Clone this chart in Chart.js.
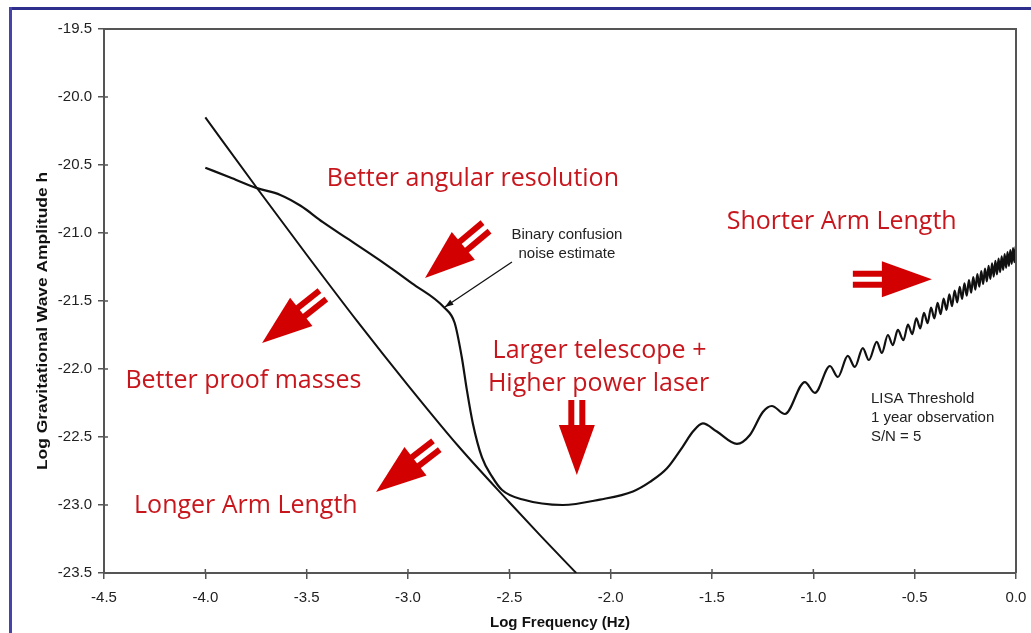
<!DOCTYPE html>
<html>
<head>
<meta charset="utf-8">
<title>LISA sensitivity</title>
<script src="https://cdn.jsdelivr.net/npm/chart.js@4.4.1/dist/chart.umd.min.js"></script>
<style>
  html, body { margin: 0; padding: 0; background: #fff; }
  #wrap { position: relative; width: 1031px; height: 633px; overflow: hidden; }
  #edgeTop { position: absolute; left: 9px; top: 7px; right: 0; height: 3px; background: #2e2f8c; }
  #edgeLeft { position: absolute; left: 9px; top: 7px; bottom: 0; width: 3px; background: #4444aa; }
</style>
</head>
<body>
<div id="wrap">
  <canvas id="chart" width="1031" height="633"></canvas>
  <div id="edgeTop"></div>
  <div id="edgeLeft"></div>
</div>
<script>
// axis ranges (log10 units)
const freqMin = -4.5, freqMax = 0.0, freqStep = 0.5;
const ampMin = -23.5, ampMax = -19.5, ampStep = 0.5;

// LISA threshold curve, 1 year observation, S/N = 5
const thresholdX = [
  -4.0, -3.88, -3.745, -3.63, -3.53, -3.42, -3.30, -3.14, -2.98, -2.82,
  -2.77, -2.735, -2.71, -2.68, -2.635, -2.586, -2.536, -2.433, -2.236, -2.053,
  -1.89, -1.806, -1.722, -1.644, -1.594, -1.545, -1.476, -1.377, -1.313, -1.249,
  -1.205, -1.140, -1.042, -0.992, -0.918, -0.879, -0.830, -0.795, -0.756, -0.726,
  -0.687, -0.662, -0.632, -0.608, -0.583,
  -0.5554, -0.5331, -0.5119, -0.4918, -0.4725, -0.4540, -0.4362, -0.4192, -0.4028, -0.3870,
  -0.3718, -0.3570, -0.3428, -0.3290, -0.3157, -0.3027, -0.2901, -0.2778, -0.2660, -0.2544,
  -0.2431, -0.2321, -0.2214, -0.2109, -0.2007, -0.1907, -0.1810, -0.1714, -0.1621, -0.1529,
  -0.1440, -0.1352, -0.1266, -0.1181, -0.1099, -0.1017, -0.0938, -0.0860, -0.0783, -0.0707,
  -0.0633, -0.0560, -0.0488, -0.0418, -0.0348, -0.0280, -0.0212, -0.0146, -0.0081, -0.0017,
  0.0
];
const thresholdY = [
  -20.52, -20.59, -20.67, -20.72, -20.80, -20.92, -21.04, -21.20, -21.37, -21.55,
  -21.66, -21.91, -22.15, -22.40, -22.65, -22.79, -22.89, -22.96, -23.00, -22.96,
  -22.90, -22.83, -22.73, -22.57, -22.46, -22.40, -22.46, -22.55, -22.485, -22.316,
  -22.272, -22.331, -22.096, -22.176, -21.978, -22.059, -21.904, -21.985, -21.846, -21.934,
  -21.801, -21.882, -21.750, -21.824, -21.713,
  -21.788, -21.673, -21.743, -21.628, -21.701, -21.587, -21.663, -21.549, -21.628, -21.514,
  -21.596, -21.482, -21.565, -21.452, -21.537, -21.423, -21.510, -21.396, -21.484, -21.371,
  -21.460, -21.347, -21.438, -21.324, -21.416, -21.302, -21.395, -21.281, -21.375, -21.261,
  -21.356, -21.242, -21.338, -21.223, -21.321, -21.205, -21.304, -21.188, -21.287, -21.172,
  -21.271, -21.156, -21.256, -21.140, -21.242, -21.125, -21.227, -21.111, -21.214, -21.097,
  -21.105
];

// binary confusion noise estimate
const confusionX = [-4.0, -3.75, -3.5, -3.25, -3.0, -2.75, -2.5, -2.35, -2.17];
const confusionY = [-20.15, -20.66, -21.16, -21.65, -22.12, -22.57, -22.98, -23.22, -23.5];

const toPoints = (xs, ys) => xs.map((x, i) => ({ x: x, y: ys[i] }));

const axisColor = '#555';
const noteRed = '#c8161d';
const arrowRed = '#d20000';
const labelFont = '"Liberation Sans", Arial, sans-serif';

// improvement arrows, tail -> tip in data units
const arrows = [
  { from: [-2.615, -20.955], to: [-2.916, -21.331] },
  { from: [-3.420, -21.455], to: [-3.720, -21.809] },
  { from: [-2.860, -22.560], to: [-3.158, -22.904] },
  { from: [-2.167, -22.228], to: [-2.167, -22.779] },
  { from: [-0.805, -21.340], to: [-0.415, -21.340] }
];

const redNotes = [
  { text: 'Better angular resolution', x: -2.680, y: -20.60 },
  { text: 'Shorter Arm Length', x: -0.860, y: -20.92 },
  { text: 'Larger telescope +', x: -2.055, y: -21.87 },
  { text: 'Higher power laser', x: -2.060, y: -22.11 },
  { text: 'Better proof masses', x: -3.812, y: -22.09 },
  { text: 'Longer Arm Length', x: -3.800, y: -23.01 }
];

const blackNotes = [
  { text: 'Binary confusion', x: -2.216, y: -21.01, align: 'center' },
  { text: 'noise estimate', x: -2.216, y: -21.15, align: 'center' },
  { text: 'LISA Threshold', x: -0.716, y: -22.22, align: 'left' },
  { text: '1 year observation', x: -0.716, y: -22.36, align: 'left' },
  { text: 'S/N = 5', x: -0.716, y: -22.50, align: 'left' }
];

const pointer = { from: [-2.487, -21.213], to: [-2.818, -21.544] };

function drawBlockArrow(ctx, x0, y0, x1, y1) {
  const dx = x1 - x0, dy = y1 - y0;
  const len = Math.hypot(dx, dy);
  const ux = dx / len, uy = dy / len;
  const nx = -uy, ny = ux;
  const headLen = 50, headHalf = 18, gap = 5.5, bar = 6;
  const bx = x1 - ux * headLen, by = y1 - uy * headLen;
  ctx.fillStyle = arrowRed;
  // head
  ctx.beginPath();
  ctx.moveTo(x1, y1);
  ctx.lineTo(bx + nx * headHalf, by + ny * headHalf);
  ctx.lineTo(bx - nx * headHalf, by - ny * headHalf);
  ctx.closePath();
  ctx.fill();
  // two shafts
  [gap, -gap].forEach(off => {
    const cx0 = x0 + nx * off, cy0 = y0 + ny * off;
    const cx1 = bx + nx * off + ux, cy1 = by + ny * off + uy;
    ctx.beginPath();
    ctx.moveTo(cx0 + nx * bar / 2, cy0 + ny * bar / 2);
    ctx.lineTo(cx1 + nx * bar / 2, cy1 + ny * bar / 2);
    ctx.lineTo(cx1 - nx * bar / 2, cy1 - ny * bar / 2);
    ctx.lineTo(cx0 - nx * bar / 2, cy0 - ny * bar / 2);
    ctx.closePath();
    ctx.fill();
  });
}

const annotations = {
  id: 'annotations',
  afterDraw(chart) {
    const { ctx, chartArea: area, scales: { x, y } } = chart;
    const px = v => x.getPixelForValue(v);
    const py = v => y.getPixelForValue(v);
    ctx.save();

    // closing frame lines and inward tick stubs
    ctx.strokeStyle = axisColor;
    ctx.lineWidth = 2;
    ctx.beginPath();
    ctx.moveTo(area.left, area.top);
    ctx.lineTo(area.right, area.top);
    ctx.lineTo(area.right, area.bottom);
    ctx.stroke();
    ctx.lineWidth = 1.5;
    ctx.beginPath();
    x.ticks.forEach(t => {
      const p = px(t.value);
      ctx.moveTo(p, area.bottom);
      ctx.lineTo(p, area.bottom - 4);
    });
    y.ticks.forEach(t => {
      const p = py(t.value);
      ctx.moveTo(area.left, p);
      ctx.lineTo(area.left + 4, p);
    });
    ctx.stroke();

    // y axis title, rotated and drawn a little long
    ctx.save();
    ctx.translate(43, (area.top + area.bottom) / 2 + 20);
    ctx.rotate(-Math.PI / 2);
    ctx.scale(1.16, 1);
    ctx.fillStyle = '#111';
    ctx.font = 'bold 15px ' + labelFont;
    ctx.textAlign = 'center';
    ctx.textBaseline = 'middle';
    ctx.fillText('Log Gravitational Wave Amplitude h', 0, 0);
    ctx.restore();

    arrows.forEach(a => drawBlockArrow(ctx, px(a.from[0]), py(a.from[1]), px(a.to[0]), py(a.to[1])));

    // thin pointer to the kink
    const p0 = [px(pointer.from[0]), py(pointer.from[1])];
    const p1 = [px(pointer.to[0]), py(pointer.to[1])];
    ctx.strokeStyle = '#111';
    ctx.fillStyle = '#111';
    ctx.lineWidth = 1.3;
    ctx.beginPath();
    ctx.moveTo(p0[0], p0[1]);
    ctx.lineTo(p1[0], p1[1]);
    ctx.stroke();
    const ang = Math.atan2(p1[1] - p0[1], p1[0] - p0[0]);
    ctx.beginPath();
    ctx.moveTo(p1[0], p1[1]);
    ctx.lineTo(p1[0] - 9 * Math.cos(ang - 0.35), p1[1] - 9 * Math.sin(ang - 0.35));
    ctx.lineTo(p1[0] - 9 * Math.cos(ang + 0.35), p1[1] - 9 * Math.sin(ang + 0.35));
    ctx.closePath();
    ctx.fill();

    ctx.textBaseline = 'middle';
    ctx.font = '25px "Open Sans", sans-serif';
    ctx.fillStyle = noteRed;
    ctx.textAlign = 'center';
    redNotes.forEach(n => ctx.fillText(n.text, px(n.x), py(n.y)));

    ctx.font = '15px ' + labelFont;
    ctx.fillStyle = '#222';
    blackNotes.forEach(n => {
      ctx.textAlign = n.align;
      ctx.fillText(n.text, px(n.x), py(n.y));
    });
    ctx.restore();
  }
};

new Chart(document.getElementById('chart'), {
  type: 'line',
  data: {
    datasets: [
      {
        label: 'LISA threshold',
        data: toPoints(thresholdX, thresholdY),
        borderColor: '#111',
        borderWidth: 2.2,
        pointRadius: 0,
        cubicInterpolationMode: 'monotone'
      },
      {
        label: 'Binary confusion noise',
        data: toPoints(confusionX, confusionY),
        borderColor: '#111',
        borderWidth: 2,
        pointRadius: 0,
        cubicInterpolationMode: 'monotone'
      }
    ]
  },
  options: {
    responsive: false,
    animation: false,
    layout: { padding: { top: 29, right: 15, left: 0, bottom: 0 } },
    plugins: {
      legend: { display: false },
      tooltip: { enabled: false }
    },
    scales: {
      x: {
        type: 'linear',
        min: freqMin,
        max: freqMax,
        // fixed band height; the edge labels fit inside the outer padding
        afterFit: s => { s.height = 60; s.paddingLeft = 0; s.paddingRight = 0; },
        border: { display: true, color: axisColor, width: 2 },
        grid: { drawOnChartArea: false, tickLength: 6, color: axisColor, lineWidth: 1.5 },
        ticks: {
          stepSize: freqStep,
          padding: 10,
          color: '#222',
          font: { family: labelFont, size: 15 },
          callback: v => v.toFixed(1)
        },
        title: {
          display: true,
          text: 'Log Frequency (Hz)',
          color: '#111',
          font: { family: labelFont, size: 15, weight: 'bold' },
          padding: { top: 0, bottom: 1 }
        }
      },
      y: {
        type: 'linear',
        min: ampMin,
        max: ampMax,
        afterFit: s => { s.width = 104; },
        border: { display: true, color: axisColor, width: 2 },
        grid: { drawOnChartArea: false, tickLength: 6, color: axisColor, lineWidth: 1.5 },
        ticks: {
          stepSize: ampStep,
          padding: 6,
          color: '#222',
          font: { family: labelFont, size: 15 },
          callback: v => v.toFixed(1)
        }
      }
    }
  },
  plugins: [annotations]
});
</script>
</body>
</html>
